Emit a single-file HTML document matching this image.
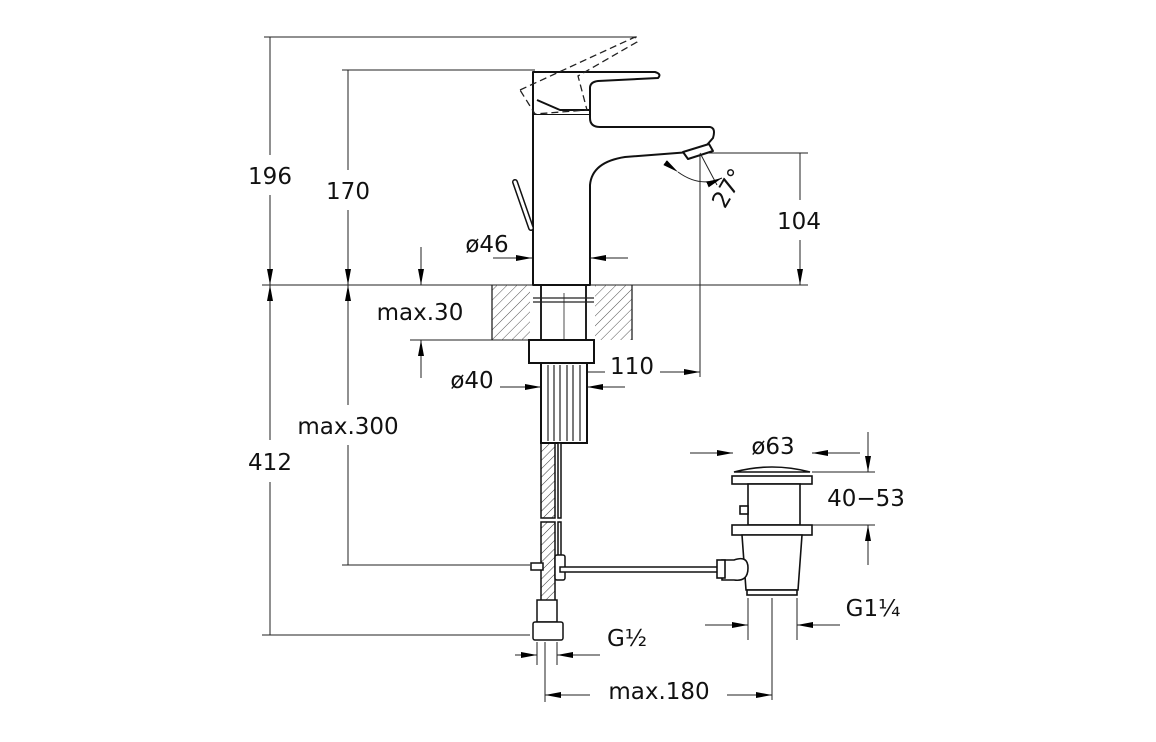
<!DOCTYPE html>
<html><head><meta charset="utf-8"><style>
html,body{margin:0;padding:0;background:#fff}
svg{display:block}
text{font-family:"DejaVu Sans","Liberation Sans",sans-serif;font-size:23px;fill:#111;text-anchor:middle}
</style></head><body>
<svg width="1156" height="742" viewBox="0 0 1156 742" xmlns="http://www.w3.org/2000/svg">
<defs>
<marker id="a" viewBox="0 0 16 6" refX="16" refY="3" markerWidth="16" markerHeight="6" markerUnits="userSpaceOnUse" orient="auto"><path d="M0,0 L16,3 L0,6 Z" fill="#000"/></marker>
<pattern id="h" width="7" height="7" patternUnits="userSpaceOnUse" patternTransform="rotate(45)"><line x1="0" y1="0" x2="0" y2="7" stroke="#555" stroke-width="1"/></pattern>
<pattern id="h2" width="6" height="6" patternUnits="userSpaceOnUse" patternTransform="rotate(45)"><line x1="0" y1="0" x2="0" y2="6" stroke="#333" stroke-width="1"/></pattern>
</defs>
<g stroke="#222" stroke-width="1" fill="none">
<line x1="264" y1="37" x2="637" y2="37"/>
<line x1="342" y1="70" x2="535" y2="70"/>
<line x1="262" y1="285" x2="808" y2="285"/>
<line x1="700" y1="153" x2="808" y2="153"/>
<line x1="700" y1="153" x2="700" y2="377"/>
<line x1="410" y1="340" x2="530" y2="340"/>
<line x1="342" y1="565" x2="530" y2="565"/>
<line x1="262" y1="635" x2="530" y2="635"/>
<line x1="270" y1="37" x2="270" y2="155"/><line x1="270" y1="195" x2="270" y2="285" marker-end="url(#a)"/>
<line x1="270" y1="635" x2="270" y2="482"/><line x1="270" y1="440" x2="270" y2="285" marker-end="url(#a)"/>
<line x1="348" y1="70" x2="348" y2="170"/><line x1="348" y1="210" x2="348" y2="285" marker-end="url(#a)"/>
<line x1="348" y1="565" x2="348" y2="445"/><line x1="348" y1="405" x2="348" y2="285" marker-end="url(#a)"/>
<line x1="800" y1="153" x2="800" y2="200"/><line x1="800" y1="240" x2="800" y2="285" marker-end="url(#a)"/>
<line x1="421" y1="247" x2="421" y2="285" marker-end="url(#a)"/>
<line x1="421" y1="378" x2="421" y2="340" marker-end="url(#a)"/>
<line x1="493" y1="258" x2="532" y2="258" marker-end="url(#a)"/>
<line x1="628" y1="258" x2="590" y2="258" marker-end="url(#a)"/>
<line x1="500" y1="387" x2="541" y2="387" marker-end="url(#a)"/>
<line x1="625" y1="387" x2="587" y2="387" marker-end="url(#a)"/>
<line x1="565" y1="372" x2="605" y2="372"/>
<line x1="660" y1="372" x2="700" y2="372" marker-end="url(#a)"/>
<line x1="566" y1="372" x2="580" y2="372" stroke-width="2"/>
<line x1="690" y1="453" x2="733" y2="453" marker-end="url(#a)"/>
<line x1="860" y1="453" x2="812" y2="453" marker-end="url(#a)"/>
<line x1="812" y1="472" x2="875" y2="472"/><line x1="812" y1="525" x2="875" y2="525"/>
<line x1="868" y1="432" x2="868" y2="472" marker-end="url(#a)"/>
<line x1="868" y1="565" x2="868" y2="525" marker-end="url(#a)"/>
<line x1="748" y1="598" x2="748" y2="640"/><line x1="772" y1="598" x2="772" y2="700"/><line x1="797" y1="598" x2="797" y2="640"/>
<line x1="705" y1="625" x2="748" y2="625" marker-end="url(#a)"/>
<line x1="840" y1="625" x2="797" y2="625" marker-end="url(#a)"/>
<line x1="537" y1="642" x2="537" y2="665"/><line x1="545" y1="642" x2="545" y2="702"/><line x1="557" y1="642" x2="557" y2="665"/>
<line x1="515" y1="655" x2="537" y2="655" marker-end="url(#a)"/>
<line x1="600" y1="655" x2="557" y2="655" marker-end="url(#a)"/>
<line x1="590" y1="695" x2="545" y2="695" marker-end="url(#a)"/>
<line x1="727" y1="695" x2="772" y2="695" marker-end="url(#a)"/>
</g>
<path d="M492,285 H530 V340 H492 Z M595,285 H632 V340 H595 Z" fill="url(#h)" stroke="none"/>
<g stroke="#222" stroke-width="1.3" fill="none">
<line x1="492" y1="285" x2="492" y2="340"/><line x1="632" y1="285" x2="632" y2="340"/>
<line x1="541" y1="285" x2="541" y2="340" stroke-width="2"/><line x1="586" y1="285" x2="586" y2="340" stroke-width="2"/>
<line x1="533" y1="298" x2="594" y2="298"/><line x1="533" y1="302" x2="594" y2="302"/>
<line x1="564" y1="293" x2="564" y2="390" stroke-width="0.8"/>
</g>
<g stroke="#111" stroke-width="2" fill="#fff" stroke-linejoin="round">
<path d="M533,285 V114 H590 V118 Q590,127 600,127 H710 Q716,128 713,138 L706,146 L690,152 L625,157 Q592,162 590,185 V285 Z"/>
<path d="M533,114 V72 H655 Q662,74 658,78 L598,81 Q590,82 590,88 V110 L590,114"/>
<path d="M537,100 L560,110 L590,110" fill="none"/>
<path d="M683,152 L709,144 L713,151 L688,159 Z"/>
<path d="M515,182 L531,228" stroke-width="6" stroke-linecap="round"/>
<path d="M515,182 L531,228" stroke-width="3" stroke="#fff" stroke-linecap="round"/>
</g>
<path d="M520,90 L635,37 L637,42 L578,76 L587,110 L535,114 Z" stroke="#222" stroke-width="1.3" fill="none" stroke-dasharray="7,4"/>
<g stroke="#222" stroke-width="1" fill="none">
<line x1="700" y1="153" x2="717" y2="185"/>
<path d="M678,172 Q700,188 722,178" marker-start="url(#a)" marker-end="url(#a)"/>
</g>
<g stroke="#111" stroke-width="2" fill="#fff">
<rect x="529" y="340" width="65" height="23"/>
<rect x="541" y="363" width="46" height="80"/>
</g>
<g stroke="#222" stroke-width="1.2">
<line x1="548" y1="365" x2="548" y2="441"/><line x1="554" y1="365" x2="554" y2="441"/><line x1="560" y1="365" x2="560" y2="441"/><line x1="567" y1="365" x2="567" y2="441"/><line x1="573" y1="365" x2="573" y2="441"/><line x1="580" y1="365" x2="580" y2="441"/>
</g>
<rect x="541" y="443" width="14" height="75" fill="url(#h2)" stroke="#111" stroke-width="1.5"/>
<rect x="541" y="522" width="14" height="98" fill="url(#h2)" stroke="#111" stroke-width="1.5"/>
<g stroke="#111" stroke-width="1.5" fill="#fff">
<rect x="558" y="443" width="3" height="75"/><rect x="558" y="522" width="3" height="40"/>
<rect x="531" y="563" width="12" height="7"/>
<rect x="555" y="555" width="10" height="25" rx="2"/>
<rect x="560" y="567" width="160" height="5"/>
<rect x="537" y="600" width="20" height="22"/>
<rect x="533" y="622" width="30" height="18" rx="2"/>
</g>
<g stroke="#111" stroke-width="1.6" fill="#fff">
<path d="M734,472 Q772,462 810,472 Z"/>
<rect x="732" y="476" width="80" height="8"/>
<rect x="748" y="484" width="52" height="41"/>
<rect x="740" y="506" width="8" height="8"/>
<rect x="732" y="525" width="80" height="10"/>
<path d="M742,535 H802 L798,590 H746 Z"/>
<rect x="747" y="590" width="50" height="5"/>
<path d="M722,560 H734 Q748,555 748,568 Q748,582 734,580 H722 Z"/>
<rect x="717" y="560" width="8" height="18"/>
</g>
<text x="270" y="184">196</text>
<text x="348" y="199">170</text>
<text x="270" y="470">412</text>
<text x="348" y="434">max.300</text>
<text x="420" y="320">max.30</text>
<text x="487" y="252">ø46</text>
<text x="472" y="388">ø40</text>
<text x="632" y="374">110</text>
<text x="799" y="229">104</text>
<text x="773" y="454">ø63</text>
<text x="866" y="506">40−53</text>
<text x="873" y="616">G1¼</text>
<text x="627" y="646">G½</text>
<text x="659" y="699">max.180</text>
<text x="728" y="196" transform="rotate(-60 728 188)">27°</text>
</svg>
</body></html>
